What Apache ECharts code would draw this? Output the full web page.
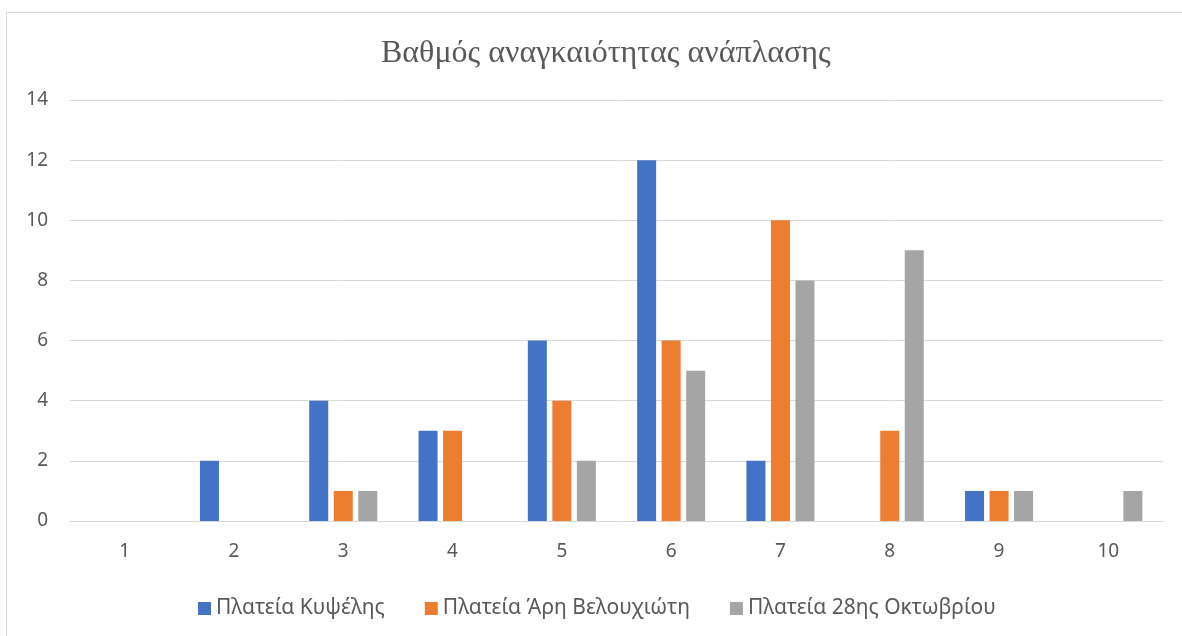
<!DOCTYPE html>
<html>
<head>
<meta charset="utf-8">
<script src="https://cdn.jsdelivr.net/npm/echarts@6/dist/echarts.min.js"></script>
<style>
  html, body { margin: 0; padding: 0; background: #fff; }
  #frame { position: absolute; left: 6px; top: 12px; width: 1200px; height: 640px; border: 1px solid #d9d9d9; box-sizing: border-box; }
  #chart { position: absolute; left: 0; top: 0; width: 1182px; height: 636px; }
</style>
</head>
<body>
<div id="frame"></div>
<div id="chart"></div>
<script>
const categories = ['1', '2', '3', '4', '5', '6', '7', '8', '9', '10'];
const seriesNames = ['Πλατεία Κυψέλης', 'Πλατεία Άρη Βελουχιώτη', 'Πλατεία 28ης Οκτωβρίου'];
const kypselis = [0, 2, 4, 3, 6, 12, 2, 0, 1, 0];
const velouchioti = [0, 0, 1, 3, 4, 6, 10, 3, 1, 0];
const oktovriou = [0, 0, 1, 0, 2, 5, 8, 9, 1, 1];
const colors = ['#4472c4', '#ed7d31', '#a5a5a5'];
const titleText = 'Βαθμός αναγκαιότητας ανάπλασης';

const chart = echarts.init(document.getElementById('chart'), null, { renderer: 'canvas' });
const dataSets = [kypselis, velouchioti, oktovriou];
const labelFont = '"Noto Sans", sans-serif';

chart.setOption({
  animation: false,
  backgroundColor: 'transparent',
  color: colors,
  title: {
    text: titleText,
    left: 376,
    top: 33,
    textStyle: { fontFamily: '"Liberation Serif", serif', fontWeight: 'normal', fontSize: 32, color: '#595959' }
  },
  legend: {
    top: 593,
    left: 193,
    itemWidth: 13,
    itemHeight: 13,
    itemGap: 40,
    icon: 'rect',
    textStyle: { fontFamily: labelFont, fontSize: 21, color: '#595959' },
    data: seriesNames
  },
  grid: { left: 70, right: 19, top: 100, bottom: 115, containLabel: false },
  xAxis: {
    type: 'category',
    data: categories,
    axisLine: { lineStyle: { color: '#d9d9d9', width: 1 } },
    axisTick: { show: false },
    axisLabel: { fontFamily: labelFont, fontSize: 19, color: '#595959', margin: 21 }
  },
  yAxis: {
    type: 'value',
    min: 0,
    max: 14,
    interval: 2,
    axisLine: { show: false },
    axisTick: { show: false },
    splitLine: { lineStyle: { color: '#d9d9d9', width: 1 } },
    axisLabel: { fontFamily: labelFont, fontSize: 19, color: '#595959', margin: 22 }
  },
  series: dataSets.map((d, i) => ({
    name: seriesNames[i],
    type: 'bar',
    data: d,
    barWidth: 19,
    barGap: '29%',
    itemStyle: { color: colors[i] }
  }))
});
</script>
</body>
</html>
